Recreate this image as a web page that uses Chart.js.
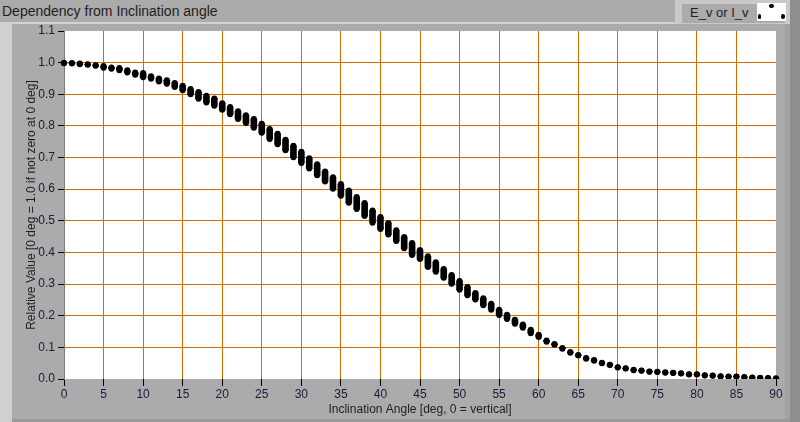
<!DOCTYPE html>
<html>
<head>
<meta charset="utf-8">
<script src="https://cdn.jsdelivr.net/npm/chart.js@4/dist/chart.umd.min.js"></script>
<style>
  html, body { margin: 0; padding: 0; }
  body { width: 800px; height: 422px; overflow: hidden; background: #ababab; position: relative; font-family: "Liberation Sans", Arial, sans-serif; }
  .abs { position: absolute; }
  #title { left: 2px; top: 3px; font-size: 14px; color: #1e1e1e; white-space: nowrap; letter-spacing: 0; }
  #topline { left: 0; top: 22px; width: 676px; height: 2px; background: #d2d2d2; }
  #leftstrip { left: 0; top: 22px; width: 12px; height: 400px; background: #d0d0d0; }
  #rightedge1 { left: 785px; top: 24px; width: 5px; height: 398px; background: #a3a3a3; }
  #rightedge2 { left: 790px; top: 0px; width: 10px; height: 422px; background: #8e8e8e; }
  #bottomline { left: 12px; top: 419px; width: 778px; height: 3px; background: #9a9a9a; }
  #legend { left: 675px; top: 0px; width: 115px; height: 24px; background: #c9c9c9; }
  #legendInner { left: 682px; top: 4px; width: 103px; height: 19px; background: #ababab; }
  #legendText { left: 690px; top: 5px; font-size: 13px; color: #1e1e1e; white-space: nowrap; }
  #legendBox { left: 757px; top: 3px; width: 29px; height: 18px; background: #ffffff; }
  .ld { position: absolute; background: #000; border-radius: 2px; }
  canvas { position: absolute; left: 0; top: 0; }
</style>
</head>
<body>
<div class="abs" id="topline"></div>
<div class="abs" id="leftstrip"></div>
<div class="abs" id="rightedge1"></div>
<div class="abs" id="rightedge2"></div>
<div class="abs" id="bottomline"></div>
<div class="abs" id="title">Dependency from Inclination angle</div>
<div class="abs" id="legend"></div>
<div class="abs" id="legendInner"></div>
<div class="abs" id="legendText">E_v or I_v</div>
<div class="abs" id="legendBox">
  <div class="ld" style="left:12px;top:1px;width:5px;height:4px;"></div>
  <div class="ld" style="left:1px;top:11px;width:3px;height:5px;"></div>
  <div class="ld" style="left:24px;top:11px;width:4px;height:5px;"></div>
</div>
<canvas id="c" width="800" height="422"></canvas>
<script>
const angles = [];
for (let a = 0; a <= 90; a++) angles.push(a);

const valueHigh = [
  1.000, 0.999, 0.997, 0.995, 0.992, 0.989, 0.985, 0.983, 0.976, 0.969,
  0.967, 0.957, 0.950, 0.944, 0.936, 0.927, 0.917, 0.907, 0.895, 0.887,
  0.872, 0.860, 0.846, 0.834, 0.822, 0.807, 0.790, 0.775, 0.756, 0.737,
  0.718, 0.698, 0.679, 0.656, 0.638, 0.616, 0.596, 0.575, 0.556, 0.533,
  0.512, 0.493, 0.470, 0.449, 0.430, 0.408, 0.388, 0.369, 0.348, 0.329,
  0.310, 0.291, 0.272, 0.255, 0.238, 0.219, 0.203, 0.187, 0.172, 0.156,
  0.140, 0.122, 0.111, 0.098, 0.085, 0.076, 0.066, 0.060, 0.051, 0.045,
  0.037, 0.034, 0.029, 0.027, 0.024, 0.023, 0.021, 0.020, 0.018, 0.015,
  0.015, 0.012, 0.011, 0.009, 0.008, 0.008, 0.006, 0.005, 0.004, 0.003,
  0.002
];
const valueLow = [
  0.998, 0.997, 0.995, 0.993, 0.990, 0.984, 0.981, 0.976, 0.969, 0.962,
  0.954, 0.949, 0.940, 0.933, 0.923, 0.913, 0.900, 0.886, 0.874, 0.864,
  0.851, 0.837, 0.822, 0.809, 0.794, 0.778, 0.759, 0.742, 0.723, 0.701,
  0.683, 0.665, 0.644, 0.624, 0.601, 0.579, 0.557, 0.537, 0.515, 0.494,
  0.474, 0.457, 0.436, 0.413, 0.392, 0.379, 0.354, 0.339, 0.320, 0.301,
  0.282, 0.265, 0.251, 0.233, 0.219, 0.202, 0.190, 0.175, 0.162, 0.145,
  0.133, 0.118, 0.108, 0.096, 0.083, 0.074, 0.064, 0.058, 0.050, 0.044,
  0.036, 0.033, 0.028, 0.026, 0.023, 0.022, 0.020, 0.019, 0.017, 0.014,
  0.014, 0.011, 0.010, 0.008, 0.007, 0.007, 0.005, 0.004, 0.003, 0.002,
  0.001
];

const xTitle = "Inclination Angle [deg, 0 = vertical]";
const yTitle = "Relative Value [0 deg = 1.0 if not zero at 0 deg]";

const ORANGE = '#cc6e00';
const TICKTEXT = '#1a1a3c';
const FONT = "'Liberation Sans', Arial, sans-serif";
const clipArea = { left: 6, top: 6, right: 6, bottom: 0 };

const plotBg = {
  id: 'plotBg',
  beforeDraw(chart) {
    const { ctx, chartArea: a } = chart;
    ctx.save();
    ctx.fillStyle = '#ffffff';
    ctx.fillRect(a.left, a.top, a.right - a.left, a.bottom - a.top);
    ctx.restore();
  }
};

new Chart(document.getElementById('c'), {
  type: 'scatter',
  data: {
    datasets: [
      {
        type: 'bar',
        data: angles.map((a, i) => ({ x: a, y: [valueLow[i], valueHigh[i]] })),
        backgroundColor: '#000000',
        borderWidth: 0,
        barThickness: 6,
        borderSkipped: false,
        clip: clipArea
      },
      {
        type: 'scatter',
        data: angles.map((a, i) => ({ x: a, y: valueHigh[i] })),
        pointRadius: 3,
        pointBackgroundColor: '#000000',
        pointBorderWidth: 0,
        showLine: false,
        clip: clipArea
      },
      {
        type: 'scatter',
        data: angles.map((a, i) => ({ x: a, y: valueLow[i] })),
        pointRadius: 3,
        pointBackgroundColor: '#000000',
        pointBorderWidth: 0,
        showLine: false,
        clip: clipArea
      }
    ]
  },
  options: {
    responsive: false,
    animation: false,
    events: [],
    layout: { padding: { left: 12, top: 31, right: 24, bottom: 0 } },
    plugins: { legend: { display: false }, tooltip: { enabled: false }, title: { display: false } },
    scales: {
      x: {
        type: 'linear',
        min: 0, max: 90,
        offset: false,
        afterFit(s) { s.height = 43; },
        grid: {
          offset: false,
          color: (c) => (c.tick && (c.tick.value === 0 || c.tick.value === 90)) ? 'rgba(0,0,0,0)' : ORANGE,
          lineWidth: 1,
          tickColor: '#000000',
          tickLength: 7,
          drawTicks: true
        },
        border: { display: false },
        ticks: {
          stepSize: 5,
          padding: 1,
          color: TICKTEXT,
          font: { family: FONT, size: 12 },
          maxRotation: 0,
          autoSkip: false
        },
        title: {
          display: true,
          text: xTitle,
          color: '#1e1e1e',
          font: { family: FONT, size: 12 },
          padding: { top: 0, bottom: 5 }
        }
      },
      y: {
        type: 'linear',
        min: 0, max: 1.1,
        afterFit(s) { s.width = 52; },
        grid: {
          color: (c) => (c.tick && (Math.abs(c.tick.value) < 1e-9 || Math.abs(c.tick.value - 1.1) < 1e-9)) ? 'rgba(0,0,0,0)' : ORANGE,
          lineWidth: 1,
          tickColor: '#000000',
          tickLength: 6,
          drawTicks: true
        },
        border: { display: true, color: '#7a7a7a', width: 1 },
        ticks: {
          stepSize: 0.1,
          padding: 3,
          color: TICKTEXT,
          font: { family: FONT, size: 12 },
          callback: (v) => Number(v).toFixed(1),
          autoSkip: false
        },
        title: {
          display: true,
          text: yTitle,
          color: '#1e1e1e',
          font: { family: FONT, size: 12 },
          padding: { top: 12, bottom: 0 }
        }
      }
    }
  },
  plugins: [plotBg]
});
</script>
</body>
</html>
